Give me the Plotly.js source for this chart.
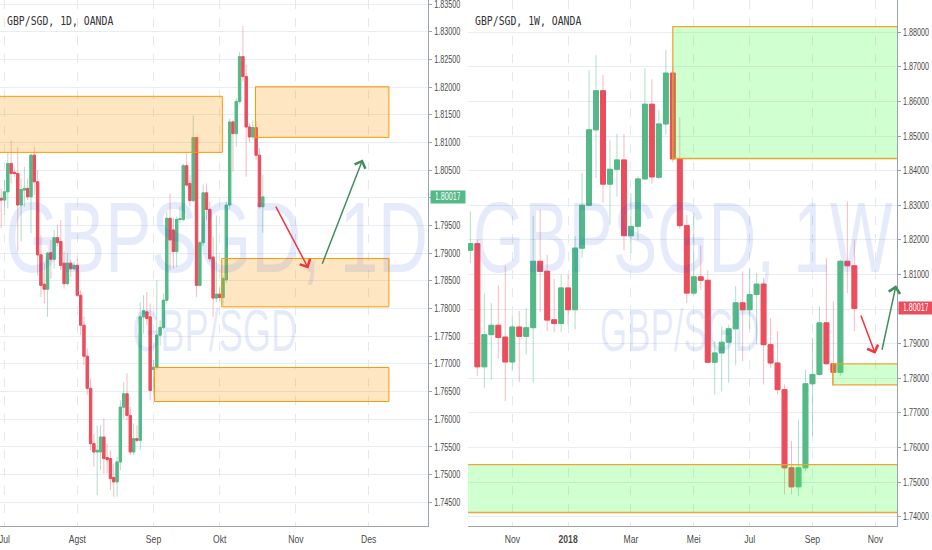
<!DOCTYPE html>
<html>
<head>
<meta charset="utf-8">
<script src="https://cdn.plot.ly/plotly-3.0.1.min.js"></script>
<style>
  html, body { margin: 0; padding: 0; background: #ffffff; }
  #chart { width: 932px; height: 550px; }
</style>
</head>
<body>
<div id="chart"></div>
<script>
// ---------------- DATA ----------------
// Daily GBP/SGD (bar index: 0 = first bar of July)
const dailyStart = -1;
const dailyOpen = [
  1.7999, 1.7996, 1.8011, 1.8062, 1.8046, 1.8044, 1.7987, 1.8014, 1.8017, 1.8002,
  1.8077, 1.8029, 1.7897, 1.7844, 1.7835, 1.7901, 1.7889, 1.7928, 1.7921, 1.7882,
  1.7845, 1.7882, 1.7872, 1.7878, 1.7824, 1.7770, 1.7714, 1.7656, 1.7556, 1.7541,
  1.7541, 1.7568, 1.7531, 1.7529, 1.7495, 1.7487, 1.7523, 1.7622, 1.7646, 1.7607,
  1.7541, 1.7565, 1.7562, 1.7785, 1.7794, 1.7785, 1.7690, 1.7694, 1.7752, 1.7766,
  1.7815, 1.7963, 1.7942, 1.7903, 1.7961, 1.7961, 1.8058, 1.8026, 1.7995, 1.8109,
  1.7842, 1.7919, 1.8009, 1.7979, 1.7893, 1.7819, 1.7826, 1.7820, 1.7852, 1.7987,
  1.8137, 1.8116, 1.8174, 1.8255, 1.8219, 1.8128, 1.8110, 1.8127, 1.8077, 1.7984
];
const dailyHigh = [
  1.8017, 1.8032, 1.8083, 1.8104, 1.8053, 1.8092, 1.8035, 1.8056, 1.8035, 1.8080,
  1.8092, 1.8050, 1.7933, 1.7882, 1.7903, 1.7924, 1.7942, 1.7951, 1.7960, 1.7903,
  1.7900, 1.7888, 1.7885, 1.7891, 1.7833, 1.7785, 1.7728, 1.7674, 1.7574, 1.7589,
  1.7589, 1.7601, 1.7556, 1.7544, 1.7520, 1.7532, 1.7634, 1.7667, 1.7683, 1.7622,
  1.7592, 1.7589, 1.7812, 1.7824, 1.7830, 1.7809, 1.7707, 1.7851, 1.7779, 1.7827,
  1.7975, 1.8008, 1.7963, 1.7966, 1.7984, 1.8062, 1.8080, 1.8041, 1.8149, 1.8110,
  1.7923, 1.8024, 1.8026, 1.7993, 1.7930, 1.7968, 1.7840, 1.7860, 1.7993, 1.8143,
  1.8140, 1.8180, 1.8264, 1.8310, 1.8240, 1.8134, 1.8140, 1.8138, 1.8090, 1.8042
];
const dailyLow = [
  1.7945, 1.7969, 1.7981, 1.8026, 1.8038, 1.7903, 1.7921, 1.7984, 1.7996, 1.7936,
  1.8005, 1.7860, 1.7821, 1.7809, 1.7785, 1.7854, 1.7872, 1.7912, 1.7869, 1.7836,
  1.7842, 1.7857, 1.7869, 1.7821, 1.7752, 1.7698, 1.7644, 1.7544, 1.7514, 1.7463,
  1.7508, 1.7502, 1.7502, 1.7472, 1.7460, 1.7460, 1.7508, 1.7601, 1.7598, 1.7535,
  1.7535, 1.7559, 1.7544, 1.7755, 1.7770, 1.7634, 1.7643, 1.7689, 1.7733, 1.7763,
  1.7809, 1.7869, 1.7872, 1.7875, 1.7954, 1.7957, 1.8020, 1.7984, 1.7993, 1.7821,
  1.7839, 1.7913, 1.7960, 1.7884, 1.7785, 1.7812, 1.7812, 1.7806, 1.7846, 1.7980,
  1.8047, 1.8092, 1.8170, 1.8210, 1.8038, 1.8100, 1.8105, 1.8068, 1.7980, 1.7937
];
const dailyClose = [
  1.7996, 1.8011, 1.8062, 1.8044, 1.8044, 1.7987, 1.8015, 1.8017, 1.8002, 1.8077,
  1.8029, 1.7897, 1.7842, 1.7835, 1.7900, 1.7889, 1.7928, 1.7919, 1.7878, 1.7845,
  1.7882, 1.7872, 1.7878, 1.7824, 1.7770, 1.7714, 1.7656, 1.7556, 1.7541, 1.7544,
  1.7568, 1.7529, 1.7527, 1.7493, 1.7487, 1.7523, 1.7622, 1.7646, 1.7607, 1.7541,
  1.7565, 1.7562, 1.7785, 1.7796, 1.7782, 1.7652, 1.7694, 1.7752, 1.7766, 1.7815,
  1.7963, 1.7924, 1.7903, 1.7961, 1.7962, 1.8058, 1.8023, 1.7995, 1.8109, 1.7842,
  1.7919, 1.8009, 1.7979, 1.7890, 1.7819, 1.7826, 1.7820, 1.7854, 1.7987, 1.8137,
  1.8116, 1.8174, 1.8255, 1.8219, 1.8128, 1.8110, 1.8127, 1.8077, 1.7984, 1.80017
];
const dailyTickVals = [0, 22, 45, 65, 88, 110];
const dailyTickText = ['Jul', 'Agst', 'Sep', 'Okt', 'Nov', 'Des'];

// Weekly GBP/SGD (bar index: 0 = first week of Nov 2017)
const weeklyStart = -6;
const weeklyOpen = [
  1.8170, 1.8189, 1.7833, 1.7926, 1.7953, 1.7919, 1.7847, 1.7948, 1.7921, 1.7946,
  1.8138, 1.8109, 1.7969, 1.7958, 1.8061, 1.7998, 1.8176, 1.8300, 1.8518, 1.8631,
  1.8361, 1.8404, 1.8431, 1.8212, 1.8239, 1.8376, 1.8592, 1.8381, 1.8535, 1.8682,
  1.8434, 1.8241, 1.8046, 1.8093, 1.8083, 1.7846, 1.7873, 1.7904, 1.7943, 1.8018,
  1.7998, 1.8042, 1.8072, 1.7897, 1.7844, 1.7767, 1.7541, 1.7486, 1.7541, 1.7784,
  1.7811, 1.7960, 1.7842, 1.7817, 1.8138, 1.8125
];
const weeklyHigh = [
  1.8282, 1.8200, 1.8046, 1.8017, 1.8068, 1.8125, 1.7981, 1.7994, 1.8003, 1.8270,
  1.8287, 1.8157, 1.8087, 1.8099, 1.8099, 1.8210, 1.8393, 1.8691, 1.8734, 1.8677,
  1.8489, 1.8507, 1.8506, 1.8335, 1.8383, 1.8696, 1.8664, 1.8576, 1.8749, 1.8700,
  1.8555, 1.8272, 1.8277, 1.8183, 1.8111, 1.7907, 1.7950, 1.7955, 1.8066, 1.8109,
  1.8119, 1.8104, 1.8090, 1.7974, 1.7936, 1.7782, 1.7618, 1.7681, 1.7825, 1.7917,
  1.8008, 1.8147, 1.8022, 1.8143, 1.8311, 1.8200
];
const weeklyLow = [
  1.8133, 1.7806, 1.7772, 1.7796, 1.7856, 1.7734, 1.7821, 1.7789, 1.7869, 1.7787,
  1.7991, 1.7936, 1.7933, 1.7933, 1.7955, 1.7942, 1.8148, 1.8297, 1.8378, 1.8308,
  1.8244, 1.8325, 1.8170, 1.8162, 1.8200, 1.8374, 1.8362, 1.8376, 1.8504, 1.8424,
  1.8231, 1.8018, 1.8040, 1.8056, 1.7844, 1.7753, 1.7762, 1.7787, 1.7837, 1.7849,
  1.7941, 1.7897, 1.7782, 1.7830, 1.7753, 1.7464, 1.7464, 1.7459, 1.7532, 1.7633,
  1.7806, 1.7839, 1.7782, 1.7806, 1.8046, 1.7936
];
const weeklyClose = [
  1.8189, 1.7833, 1.7926, 1.7953, 1.7918, 1.7847, 1.7948, 1.7921, 1.7946, 1.8138,
  1.8109, 1.7968, 1.7958, 1.8061, 1.7998, 1.8176, 1.8300, 1.8518, 1.8631, 1.8361,
  1.8404, 1.8431, 1.8212, 1.8239, 1.8376, 1.8592, 1.8382, 1.8535, 1.8682, 1.8434,
  1.8241, 1.8046, 1.8093, 1.8083, 1.7846, 1.7873, 1.7904, 1.7943, 1.8018, 1.7998,
  1.8042, 1.8072, 1.7897, 1.7844, 1.7767, 1.7541, 1.7486, 1.7541, 1.7784, 1.7811,
  1.7960, 1.7842, 1.7817, 1.8138, 1.8125, 1.80017
];
const weeklyTickVals = [0, 8, 17, 26, 34, 43, 52];
const weeklyTickText = ['Nov', '<b>2018</b>', 'Mar', 'Mei', 'Jul', 'Sep', 'Nov'];

const lastPrice = 1.80017;

// drawn zones: [x0, x1, y0, y1] (bar index, price)
const dailyZones = [
  [-5, 65.8, 1.80821, 1.81833],
  [75.8, 116.1, 1.81092, 1.82006],
  [65.6, 116.1, 1.78031, 1.78905],
  [45.3, 116.1, 1.76321, 1.76936]
];
const weeklyZones = [
  [23.0, 70, 1.84351, 1.88162],
  [45.9, 70, 1.77810, 1.78416],
  [-10, 70, 1.74118, 1.75500]
];
// drawn arrows: [tailX, tailY, headX, headY, colour]
const dailyArrows = [
  [81.7, 1.79868, 91.8, 1.78725, '#f0353b'],
  [95.8, 1.78784, 108.2, 1.80694, '#3f8f5f']
];
const weeklyArrows = [
  [49.86, 1.79859, 52.0, 1.78704, '#f0353b'],
  [52.92, 1.78780, 54.97, 1.80685, '#3f8f5f']
];

// ---------------- STYLE ----------------
const UP = '#53b987', DOWN = '#eb4d5c';
const UP_WICK = 'rgba(83,185,135,0.45)', DOWN_WICK = 'rgba(235,77,92,0.38)';
const SANS = '"Liberation Sans", Arial, sans-serif';
const MONO = '"DejaVu Sans Mono", "Liberation Mono", monospace';
const WM = 'rgba(40,90,220,0.12)';
const AXIS = '#9ba3ad';
const TXT = '#4a4a4a';

function idx(start, n) { const a = []; for (let k = 0; k < n; k++) a.push(start + k); return a; }

function candleTraces(start, o, h, l, c, xa, ya) {
  const x = idx(start, o.length);
  const bodyHi = o.map((v, k) => Math.max(v, c[k]));
  const bodyLo = o.map((v, k) => Math.min(v, c[k]));
  const wick = {
    type: 'candlestick', x: x, open: o, high: h, low: l, close: c,
    xaxis: xa, yaxis: ya, whiskerwidth: 0, hoverinfo: 'skip',
    increasing: { line: { color: UP_WICK, width: 1 }, fillcolor: 'rgba(0,0,0,0)' },
    decreasing: { line: { color: DOWN_WICK, width: 1 }, fillcolor: 'rgba(0,0,0,0)' }
  };
  const body = {
    type: 'candlestick', x: x, open: o, high: bodyHi, low: bodyLo, close: c,
    xaxis: xa, yaxis: ya, whiskerwidth: 0, hoverinfo: 'skip',
    increasing: { line: { color: UP, width: 1 }, fillcolor: UP },
    decreasing: { line: { color: DOWN, width: 1 }, fillcolor: DOWN }
  };
  return [wick, body];
}

const data = [].concat(
  candleTraces(dailyStart, dailyOpen, dailyHigh, dailyLow, dailyClose, 'x', 'y'),
  candleTraces(weeklyStart, weeklyOpen, weeklyHigh, weeklyLow, weeklyClose, 'x2', 'y2')
);

const shapes = [];
dailyZones.forEach(z => shapes.push({
  type: 'rect', xref: 'x', yref: 'y', x0: z[0], x1: z[1], y0: z[2], y1: z[3],
  fillcolor: 'rgba(255,152,0,0.24)', line: { color: '#ff9800', width: 1 }, layer: 'above'
}));
weeklyZones.forEach(z => shapes.push({
  type: 'rect', xref: 'x2', yref: 'y2', x0: z[0], x1: z[1], y0: z[2], y1: z[3],
  fillcolor: 'rgba(60,255,60,0.24)', line: { color: 'rgba(240,160,40,0.95)', width: 1.3 }, layer: 'above'
}));

// annotations + post-render text fitting (horizontal condensing, like the squeezed reference)
const annotations = [];
const fits = []; // {index, width|scale, anchor, capTop, size}
function wmark(text, xc, capTop, size, width) {
  fits.push({ index: annotations.length, width: width, anchor: 'middle', capTop: capTop, size: size });
  annotations.push({ text: text, xref: 'paper', yref: 'paper', x: xc / 932, y: 1 - (capTop + size * 0.36) / 550,
    xanchor: 'center', yanchor: 'middle', showarrow: false,
    font: { family: SANS, size: size, color: WM } });
}
wmark('GBPSGD, 1D', 216, 200, 100, 423);
wmark('GBP/SGD', 214, 308, 60, 165);
wmark('GBPSGD, 1W', 683, 200, 100, 420);
wmark('GBP/SGD', 679, 308, 60, 160);

function title(text, x) {
  fits.push({ index: annotations.length, width: 107, anchor: 'start' });
  annotations.push({ text: text, xref: 'paper', yref: 'paper', x: x / 932, y: 1 - 21 / 550,
    xanchor: 'left', yanchor: 'middle', showarrow: false, font: { family: MONO, size: 12, color: '#333333' } });
}
title('GBP/SGD, 1D, OANDA', 5);
title('GBP/SGD, 1W, OANDA', 473);

function arrows(list, xr, yr) {
  list.forEach(a => annotations.push({
    x: a[2], y: a[3], ax: a[0], ay: a[1], xref: xr, yref: yr, axref: xr, ayref: yr,
    text: '', showarrow: true, arrowhead: 4, arrowsize: 1.5, arrowwidth: 1.5, arrowcolor: a[4], standoff: 0
  }));
}
arrows(dailyArrows, 'x', 'y');
arrows(weeklyArrows, 'x2', 'y2');

function priceLabel(yref, x, color) {
  fits.push({ index: annotations.length, scale: 0.72, anchor: 'middle' });
  annotations.push({ text: lastPrice.toFixed(5), xref: 'paper', yref: yref, x: x / 932, y: lastPrice,
    xanchor: 'left', yanchor: 'middle', showarrow: false, bgcolor: color, width: 34, height: 12, borderpad: 0,
    align: 'center', font: { family: SANS, size: 10, color: '#ffffff' } });
}
priceLabel('y', 429.5, UP);
priceLabel('y2', 898, DOWN);

const yDom = [1 - 526 / 550, 1];
function xAxis(domain, range, vals, text, anchor) {
  return { domain: domain, range: range, anchor: anchor, tickmode: 'array', tickvals: vals, ticktext: text,
    showgrid: true, gridcolor: '#e1e8ef', griddash: 'dash', gridwidth: 1,
    showline: true, linecolor: AXIS, linewidth: 1, zeroline: false, ticks: '',
    tickfont: { family: SANS, size: 10.5, color: TXT }, ticklabelstandoff: 3, ticklabeloverflow: 'allow',
    rangeslider: { visible: false }, fixedrange: true };
}
function yAxis(range, dtick, tick0, anchor) {
  return { domain: yDom, range: range, anchor: anchor, side: 'right', dtick: dtick, tick0: tick0,
    tickformat: '.5f', showgrid: true, gridcolor: '#e6edf3', gridwidth: 1,
    showline: true, linecolor: AXIS, linewidth: 1, zeroline: false,
    ticks: 'outside', ticklen: 3, tickcolor: AXIS, ticklabeloverflow: 'allow',
    tickfont: { family: SANS, size: 10, color: TXT }, fixedrange: true };
}

const layout = {
  width: 932, height: 550, margin: { l: 0, r: 0, t: 0, b: 0, pad: 0 },
  paper_bgcolor: '#ffffff', plot_bgcolor: '#ffffff', showlegend: false,
  boxgap: 0.3, boxgroupgap: 0, hovermode: false,
  xaxis: xAxis([0, 428.3 / 932], [-1.36, 128.0], dailyTickVals, dailyTickText, 'y'),
  yaxis: yAxis([1.74073, 1.83573], 0.005, 1.745, 'x'),
  xaxis2: xAxis([468 / 932, 897 / 932], [-6.34, 55.11], weeklyTickVals, weeklyTickText, 'y2'),
  yaxis2: yAxis([1.73728, 1.88933], 0.01, 1.74, 'x2'),
  shapes: shapes,
  annotations: annotations
};

function squeeze(el, opt) {
  const bb = el.getBBox();
  if (!bb.width) return;
  const s = opt.width ? opt.width / bb.width : opt.scale;
  const ax = opt.anchor === 'start' ? bb.x : (opt.anchor === 'end' ? bb.x + bb.width : bb.x + bb.width / 2);
  let dy = 0;
  if (opt.capTop !== undefined) {
    const r = el.getBoundingClientRect();
    const capTopNow = r.top + 0.189 * opt.size;
    dy = opt.capTop - capTopNow;
  }
  const prev = el.getAttribute('transform') || '';
  el.setAttribute('transform', (prev + ' translate(' + ax + ',' + dy + ') scale(' + s + ',1) translate(' + (-ax) + ',0)').trim());
}

Plotly.newPlot('chart', data, layout, { displayModeBar: false, staticPlot: true }).then(function (gd) {
  const root = document.getElementById('chart');
  fits.forEach(function (f) {
    const g = root.querySelector('g.annotation[data-index="' + f.index + '"] text.annotation-text');
    if (g) squeeze(g, f);
  });
  root.querySelectorAll('g.ytick text, g.y2tick text').forEach(function (t) { squeeze(t, { scale: 0.72, anchor: 'start' }); });
  root.querySelectorAll('g.xtick text, g.x2tick text').forEach(function (t) { squeeze(t, { scale: 0.82, anchor: 'middle' }); });
});
</script>
</body>
</html>
